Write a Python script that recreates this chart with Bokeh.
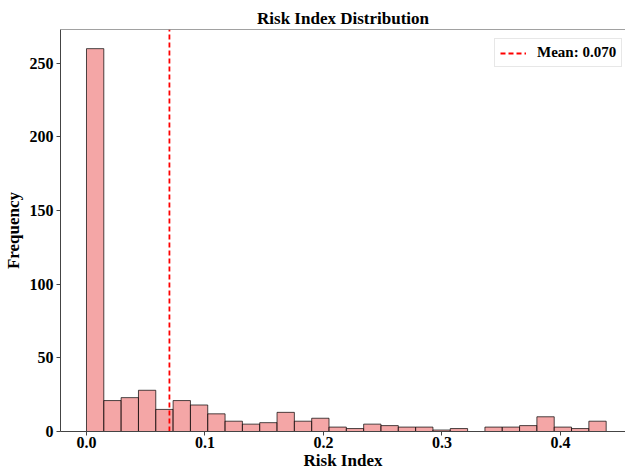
import numpy as np
from bokeh.plotting import figure
from bokeh.models import Span, Legend, LegendItem, FixedTicker, NumeralTickFormatter
from bokeh.embed import file_html
from bokeh.resources import INLINE

# ---- data ----
counts = [260, 21, 23, 28, 15, 21, 18, 12, 7, 5, 6, 13, 7, 9, 3,
          2, 5, 4, 3, 3, 1, 2, 0, 3, 3, 4, 10, 3, 2, 7]
bin_min = 0.0
bin_max = 0.4386
mean_value = 0.070
x_ticks = [0.0, 0.1, 0.2, 0.3, 0.4]
y_ticks = [0, 50, 100, 150, 200, 250]
title_text = "Risk Index Distribution"
x_label = "Risk Index"
y_label = "Frequency"
legend_label = "Mean: 0.070"

edges = np.linspace(bin_min, bin_max, len(counts) + 1)
left = edges[:-1]
right = edges[1:]

FONT = "Liberation Serif"
y_max = max(counts) * 1.05
span = bin_max - bin_min
x_start = bin_min - 0.05 * span

p = figure(width=625, height=472, output_backend="svg", toolbar_location=None,
           x_range=(x_start, 0.4549), y_range=(0, y_max),
           min_border_left=60, min_border_right=0, min_border_top=29,
           min_border_bottom=39)

p.quad(left=left, right=right, bottom=0, top=counts,
       fill_color="lightcoral", fill_alpha=0.7,
       line_color="black", line_alpha=0.7, line_width=1)

mean_r = p.line(x=[mean_value, mean_value], y=[0, y_max], line_color="red",
                line_dash="5 3", line_width=1.8)

# top spine
p.add_layout(Span(location=y_max, dimension="width", line_color="#444444", line_width=1))

p.outline_line_color = None
p.xgrid.grid_line_color = None
p.ygrid.grid_line_color = None

p.title.text = title_text
p.title.align = "center"
p.title.text_font = FONT
p.title.text_font_size = "17px"
p.title.text_font_style = "bold"
p.title.text_color = "black"
p.title.offset = 0
p.title.standoff = 4

for ax in (p.xaxis[0], p.yaxis[0]):
    ax.axis_line_color = "#444444"
    ax.major_tick_line_color = "#444444"
    ax.minor_tick_line_color = None
    ax.major_tick_out = 4
    ax.major_tick_in = 0
    ax.major_label_text_font = FONT
    ax.major_label_text_font_size = "16px"
    ax.major_label_text_font_style = "bold"
    ax.major_label_text_color = "black"
    ax.axis_label_text_font = FONT
    ax.axis_label_text_font_size = "17px"
    ax.axis_label_text_font_style = "bold"
    ax.axis_label_text_color = "black"

p.xaxis.ticker = FixedTicker(ticks=x_ticks)
p.xaxis.formatter = NumeralTickFormatter(format="0.0")
p.yaxis.ticker = FixedTicker(ticks=y_ticks)
p.xaxis.axis_label = x_label
p.yaxis.axis_label = y_label
p.xaxis.major_label_standoff = 1
p.xaxis.axis_label_standoff = 0
p.yaxis.major_label_standoff = 3
p.yaxis.axis_label_standoff = 4

legend = Legend(items=[LegendItem(label=legend_label, renderers=[mean_r])],
                location=(434, 364), margin=0, padding=5, spacing=0,
                label_text_font=FONT, label_text_font_size="15px",
                label_text_font_style="bold", label_text_color="black",
                glyph_width=26, glyph_height=16, label_standoff=11,
                label_height=16,
                border_line_color="#d0d0d0", border_line_width=1,
                background_fill_color="white", background_fill_alpha=0.8)
p.add_layout(legend)

open("out.html", "w").write(file_html(p, INLINE))
